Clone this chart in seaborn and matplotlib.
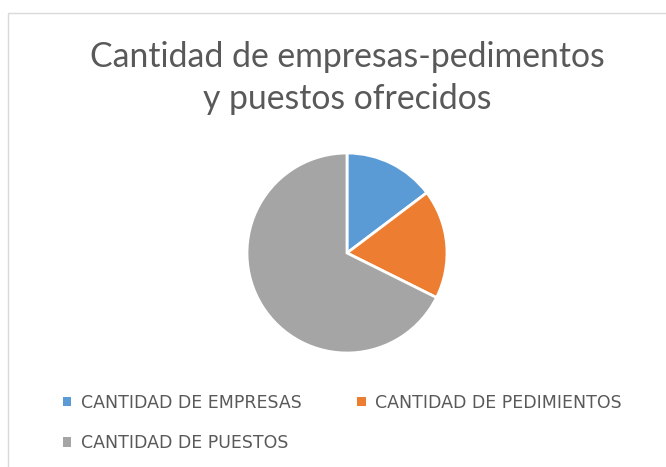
import matplotlib
matplotlib.use("Agg")
import matplotlib.pyplot as plt
import matplotlib.patches as mpatches
import seaborn as sns

sns.set_theme(style="white")
plt.rcParams['font.family'] = ['Lato', 'DejaVu Sans']

# datos
categorias = ["CANTIDAD DE EMPRESAS", "CANTIDAD DE PEDIMIENTOS", "CANTIDAD DE PUESTOS"]
valores = [15, 18, 69]
colores = ["#5B9BD5", "#ED7D31", "#A5A5A5"]

W, H = 666, 467
fig = plt.figure(figsize=(W / 100, H / 100), dpi=100)

# marco del grafico
fig.patches.append(mpatches.Rectangle((8 / W, -0.1), 1.2, 1 - 13 / H + 0.1,
                                      transform=fig.transFigure, fill=False,
                                      edgecolor="#D9D9D9", linewidth=1))

# pie: centro (347,253), radio ~100 px
cx, cy, r = 347, 253, 101
ax = fig.add_axes([(cx - r) / W, 1 - (cy + r) / H, 2 * r / W, 2 * r / H])
wedges, _ = ax.pie(valores, colors=colores, startangle=90, counterclock=False,
                   wedgeprops=dict(edgecolor="white", linewidth=2))
ax.set_xlim(-1.01, 1.01)
ax.set_ylim(-1.01, 1.01)
ax.set_aspect("equal")
ax.axis("off")

fig.text(347 / W, 1 - 57 / H, "Cantidad de empresas-pedimentos", ha="center", va="center",
         fontsize=24.3, color="#595959")
fig.text(347 / W, 1 - 99 / H, "y puestos ofrecidos", ha="center", va="center",
         fontsize=24.3, color="#595959")

# leyenda: fila 1 empresas/pedimentos, fila 2 puestos
orden = [0, 2, 1]
leg = fig.legend([wedges[i] for i in orden], [categorias[i] for i in orden],
                 ncol=2, loc="upper left", bbox_to_anchor=(47 / W, 1 - 378 / H),
                 frameon=False, labelcolor="#595959",
                 prop={'family': ['DejaVu Sans'], 'size': 12.5},
                 handlelength=0.5, handleheight=0.5, handletextpad=0.55,
                 columnspacing=3.2, labelspacing=1.3)
for h in leg.legend_handles:
    h.set_edgecolor("none")

fig.savefig("out.png", dpi=100)
